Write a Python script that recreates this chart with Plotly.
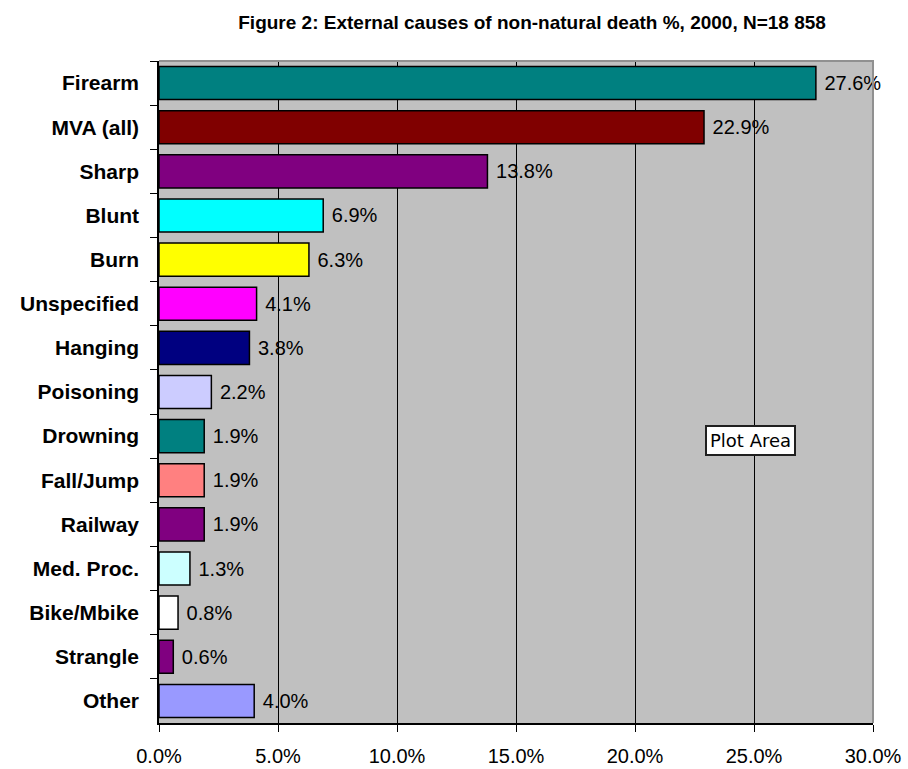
import plotly.graph_objects as go

categories = ["Firearm", "MVA (all)", "Sharp", "Blunt", "Burn", "Unspecified", "Hanging",
              "Poisoning", "Drowning", "Fall/Jump", "Railway", "Med. Proc.", "Bike/Mbike",
              "Strangle", "Other"]
values = [27.6, 22.9, 13.8, 6.9, 6.3, 4.1, 3.8, 2.2, 1.9, 1.9, 1.9, 1.3, 0.8, 0.6, 4.0]
colors = ["#008080", "#800000", "#800080", "#00FFFF", "#FFFF00", "#FF00FF", "#000080",
          "#CCCCFF", "#008080", "#FF8080", "#800080", "#CCFFFF", "#FFFFFF", "#800080", "#9999FF"]
x_ticks = [0, 5, 10, 15, 20, 25, 30]
title_text = "Figure 2: External causes of non-natural death %, 2000, N=18 858"

fig = go.Figure()
fig.add_trace(go.Bar(
    y=categories, x=values, orientation="h",
    marker=dict(color=colors, line=dict(color="black", width=1.5)),
    width=0.75,
    text=[f" {v:.1f}%" for v in values],
    textposition="outside",
    cliponaxis=False,
    textfont=dict(family="Liberation Sans, Arial, sans-serif", size=20, color="black"),
    hoverinfo="skip",
))

fig.update_layout(
    width=908, height=769,
    margin=dict(l=159, r=35, t=61, b=46, autoexpand=False),
    paper_bgcolor="white",
    plot_bgcolor="#C0C0C0",
    showlegend=False,
    title=dict(
        text=title_text,
        x=0.586, xanchor="center", y=0.971, yanchor="middle",
        font=dict(family="Liberation Sans, Arial, sans-serif",
                  size=19, color="black", weight="bold"),
    ),
    xaxis=dict(
        range=[0, 30], tickvals=x_ticks,
        ticktext=[f"{t:.1f}%" for t in x_ticks],
        showgrid=True, gridcolor="black", gridwidth=1,
        showline=True, linecolor="black", linewidth=1.5,
        ticks="outside", ticklen=7, tickcolor="black", tickwidth=1,
        ticklabelstandoff=7, automargin=False,
        zeroline=False,
        tickfont=dict(family="Liberation Sans, Arial, sans-serif", size=20, color="black"),
    ),
    yaxis=dict(
        autorange="reversed",
        showline=True, linecolor="black", linewidth=1.5,
        ticks="outside", ticklen=7, tickcolor="black", tickwidth=1,
        tickson="boundaries",
        ticklabelstandoff=14, automargin=False,
        showgrid=False,
        tickfont=dict(family="Liberation Sans, Arial, sans-serif", size=21, color="black", weight="bold"),
    ),
    shapes=[dict(type="path", xref="paper", yref="paper", path="M 0,1 L 1,1 L 1,0",
                 line=dict(color="#909090", width=2), layer="above")],
    annotations=[
        dict(xref="paper", yref="paper", x=0.828, y=0.426, xanchor="center", yanchor="middle",
             text="Plot Area", showarrow=False,
             font=dict(family="DejaVu Sans, sans-serif", size=18, color="black"),
             bgcolor="white", bordercolor="#202020", borderwidth=2, borderpad=3),
    ],
)

fig.write_html("out.html", config={"displayModeBar": False},
               post_script="document.body.style.margin='0';document.body.style.overflow='hidden';")
